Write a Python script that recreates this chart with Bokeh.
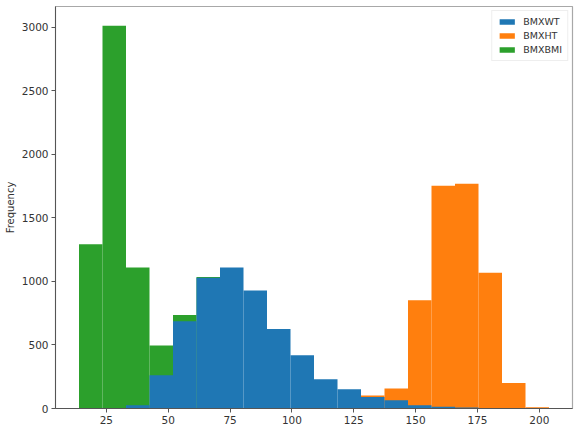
import numpy as np
from bokeh.plotting import figure
from bokeh.models import Legend, LegendItem, FixedTicker, Range1d
from bokeh.embed import file_html
from bokeh.resources import INLINE

# histogram bins (20 equal bins over the combined range of all three columns)
bin_lo = 13.95
bin_hi = 203.9
n_bins = 20

series_names = ["BMXWT", "BMXHT", "BMXBMI"]
series_colors = ["#1f77b4", "#ff7f0e", "#2ca02c"]

bmxwt_counts = [0, 0, 26, 262, 686, 1029, 1108, 929, 625, 419,
                230, 152, 91, 65, 26, 13, 7, 3, 0, 0]
bmxht_counts = [0, 0, 0, 0, 0, 0, 0, 0, 0, 0,
                0, 0, 102, 157, 851, 1752, 1767, 1068, 201, 10]
bmxbmi_counts = [1291, 3011, 1108, 495, 735, 1034, 0, 0, 0, 0,
                 0, 0, 0, 0, 0, 0, 0, 0, 0, 0]

x_ticks = [25, 50, 75, 100, 125, 150, 175, 200]
y_ticks = [0, 500, 1000, 1500, 2000, 2500, 3000]

edges = np.linspace(bin_lo, bin_hi, n_bins + 1)
left = edges[:-1]
right = edges[1:]

span = bin_hi - bin_lo
ymax = max(max(bmxwt_counts), max(bmxht_counts), max(bmxbmi_counts)) * 1.05

p = figure(frame_width=517, frame_height=402, output_backend="svg", toolbar_location=None,
           x_range=Range1d(bin_lo - 0.05 * span, bin_hi + 0.05 * span),
           y_range=Range1d(0, ymax),
           min_border_left=55, min_border_right=7, min_border_top=6, min_border_bottom=22)

p.background_fill_color = "white"
p.border_fill_color = "white"
p.outline_line_color = "#a8a8a8"
p.outline_line_width = 1.2
p.xgrid.visible = False
p.ygrid.visible = False

renderers = {}
for name, counts, color in [("BMXBMI", bmxbmi_counts, series_colors[2]),
                            ("BMXHT", bmxht_counts, series_colors[1]),
                            ("BMXWT", bmxwt_counts, series_colors[0])]:
    r = p.quad(left=left, right=right, bottom=0, top=counts,
               fill_color=color, line_color=None)
    renderers[name] = r

legend = Legend(items=[LegendItem(label=n, renderers=[renderers[n]]) for n in series_names],
                location="top_right")
legend.label_text_font = "DejaVu Sans"
legend.label_text_font_size = "9.5px"
legend.label_text_color = "#333333"
legend.glyph_width = 19
legend.glyph_height = 7
legend.label_height = 11
legend.spacing = 3
legend.padding = 5
legend.margin = 4
legend.label_standoff = 7
legend.border_line_color = "#dddddd"
legend.background_fill_alpha = 0.9
p.add_layout(legend)

for ax in (p.xaxis[0], p.yaxis[0]):
    ax.axis_line_color = "#555555"
    ax.major_tick_line_color = "#555555"
    ax.minor_tick_line_color = None
    ax.major_tick_out = 4
    ax.major_tick_in = 0
    ax.major_label_text_font = "DejaVu Sans"
    ax.major_label_text_font_size = "10.5px"
    ax.major_label_text_color = "#333333"
    ax.major_label_standoff = 3

p.xaxis.ticker = FixedTicker(ticks=x_ticks)
p.yaxis.ticker = FixedTicker(ticks=y_ticks)
p.yaxis.axis_label = "Frequency"
p.yaxis.axis_label_text_font = "DejaVu Sans"
p.yaxis.axis_label_text_font_size = "10px"
p.yaxis.axis_label_text_font_style = "normal"
p.yaxis.axis_label_text_color = "#333333"
p.yaxis.axis_label_standoff = 3

open("out.html", "w").write(file_html(p, INLINE))
